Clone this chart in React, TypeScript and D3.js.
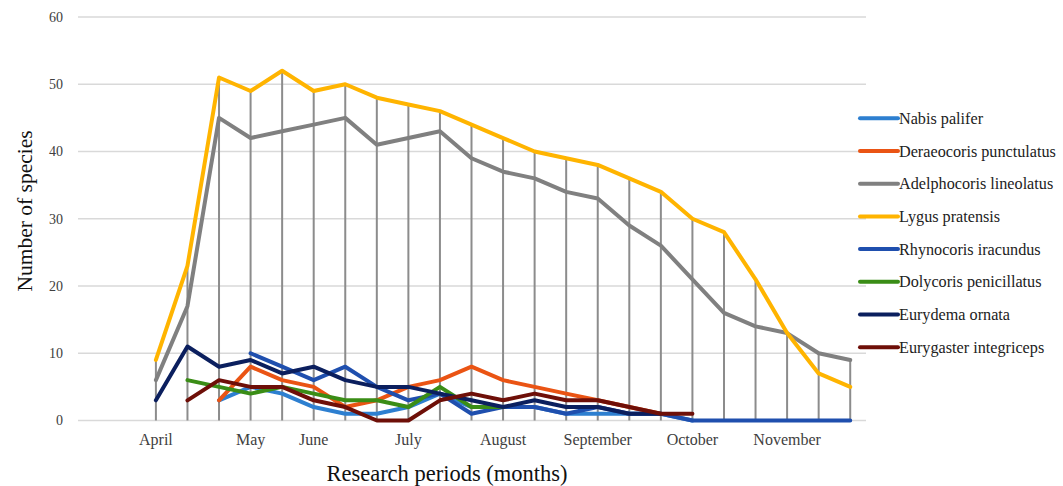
import React from "react";
import * as d3 from "d3";

// Category slots (two empty slots precede the first observation)
const periods: string[] = [
  "", "", "April", "", "", "May", "", "June", "", "", "July", "", "",
  "August", "", "", "September", "", "", "October", "", "", "November", "", "",
];

type V = number | null;
const _ = null;

const nabisPalifer: V[] = [_, _, _, _, 3, 5, 4, 2, 1, 1, 2, 4, 2, 2, 2, 1, 1, 1, 1, 0, _, _, _, _, _];
const deraeocorisPunctulatus: V[] = [_, _, _, _, 3, 8, 6, 5, 2, 3, 5, 6, 8, 6, 5, 4, 3, 2, 1, _, _, _, _, _, _];
const adelphocorisLineolatus: V[] = [_, _, 6, 17, 45, 42, 43, 44, 45, 41, 42, 43, 39, 37, 36, 34, 33, 29, 26, 21, 16, 14, 13, 10, 9];
const lygusPratensis: V[] = [_, _, 9, 23, 51, 49, 52, 49, 50, 48, 47, 46, 44, 42, 40, 39, 38, 36, 34, 30, 28, 21, 13, 7, 5];
const rhynocorisIracundus: V[] = [_, _, _, _, _, 10, 8, 6, 8, 5, 3, 4, 1, 2, 2, 1, 2, 1, 1, 0, 0, 0, 0, 0, 0];
const dolycorisPenicillatus: V[] = [_, _, _, 6, 5, 4, 5, 4, 3, 3, 2, 5, 2, 2, _, _, _, _, _, _, _, _, _, _, _];
const eurydemaOrnata: V[] = [_, _, 3, 11, 8, 9, 7, 8, 6, 5, 5, 4, 3, 2, 3, 2, 2, 1, 1, _, _, _, _, _, _];
const eurygasterIntegriceps: V[] = [_, _, _, 3, 6, 5, 5, 3, 2, 0, 0, 3, 4, 3, 4, 3, 3, 2, 1, 1, _, _, _, _, _];

const seriesNames = [
  "Nabis palifer",
  "Deraeocoris punctulatus",
  "Adelphocoris lineolatus",
  "Lygus pratensis",
  "Rhynocoris iracundus",
  "Dolycoris penicillatus",
  "Eurydema ornata",
  "Eurygaster integriceps",
];
const seriesValues = [
  nabisPalifer,
  deraeocorisPunctulatus,
  adelphocorisLineolatus,
  lygusPratensis,
  rhynocorisIracundus,
  dolycorisPenicillatus,
  eurydemaOrnata,
  eurygasterIntegriceps,
];
const seriesColors = [
  "#2d7fd0",
  "#ea5414",
  "#808080",
  "#ffb400",
  "#1f4fae",
  "#3a8d16",
  "#0b1f5e",
  "#6e0f08",
];
const yTicks = [0, 10, 20, 30, 40, 50, 60];

const W = 1063;
const H = 486;
const FONT = "'Liberation Serif', 'Times New Roman', serif";

export default function App() {
  const x = d3
    .scaleBand<number>()
    .domain(d3.range(periods.length))
    .range([77, 866])
    .paddingInner(0)
    .paddingOuter(0);
  const cx = (i: number) => (x(i) as number) + x.bandwidth() / 2;
  const y = d3.scaleLinear().domain([0, 60]).range([420.5, 17]);

  const line = d3
    .line<V>()
    .defined((d) => d !== null)
    .x((_d, i) => cx(i))
    .y((d) => y(d as number));

  const dropLines = periods
    .map((_p, i) => {
      const vals = seriesValues.map((s) => s[i]).filter((v) => v !== null) as number[];
      if (!vals.length) return null;
      return { i, max: d3.max(vals) as number, min: Math.min(0, d3.min(vals) as number) };
    })
    .filter((d) => d !== null) as { i: number; max: number; min: number }[];

  return (
    <svg
      width={W}
      height={H}
      style={{ position: "absolute", left: 0, top: 0, background: "#fff" }}
      fontFamily={FONT}
    >
      {/* gridlines */}
      {yTicks.map((t) => (
        <line key={t} x1={78} x2={866} y1={y(t)} y2={y(t)} stroke="#d9d9d9" strokeWidth={1.5} />
      ))}
      {/* y tick labels */}
      {yTicks.map((t) => (
        <text key={"t" + t} x={63} y={y(t)} dy="0.35em" textAnchor="end" fontSize={14} fill="#404040">
          {t}
        </text>
      ))}
      {/* drop lines */}
      {dropLines.map((d) => (
        <line key={"d" + d.i} x1={cx(d.i)} x2={cx(d.i)} y1={y(d.max)} y2={y(d.min)} stroke="#8c8c8c" strokeWidth={2} />
      ))}
      {/* series */}
      {seriesValues.map((s, k) => (
        <path
          key={seriesNames[k]}
          d={line(s) || ""}
          fill="none"
          stroke={seriesColors[k]}
          strokeWidth={4}
          strokeLinejoin="round"
          strokeLinecap="round"
        />
      ))}
      {/* month labels */}
      {periods.map((p, i) =>
        p ? (
          <text key={"m" + i} x={cx(i)} y={445} textAnchor="middle" fontSize={16} fill="#404040">
            {p}
          </text>
        ) : null
      )}
      {/* axis titles */}
      <text x={447} y={481} textAnchor="middle" fontSize={22.5} fill="#111">
        Research periods (months)
      </text>
      <text
        transform={`translate(32,211) rotate(-90)`}
        textAnchor="middle"
        fontSize={21.5}
        fill="#111"
      >
        Number of species
      </text>
      {/* legend */}
      {seriesNames.map((n, k) => {
        const ly = 118.3 + k * 32.7;
        return (
          <g key={"l" + n}>
            <line x1={860} x2={898} y1={ly} y2={ly} stroke={seriesColors[k]} strokeWidth={4} strokeLinecap="round" />
            <text x={899} y={ly} dy="0.35em" fontSize={16.2} fill="#222">
              {n}
            </text>
          </g>
        );
      })}
    </svg>
  );
}
